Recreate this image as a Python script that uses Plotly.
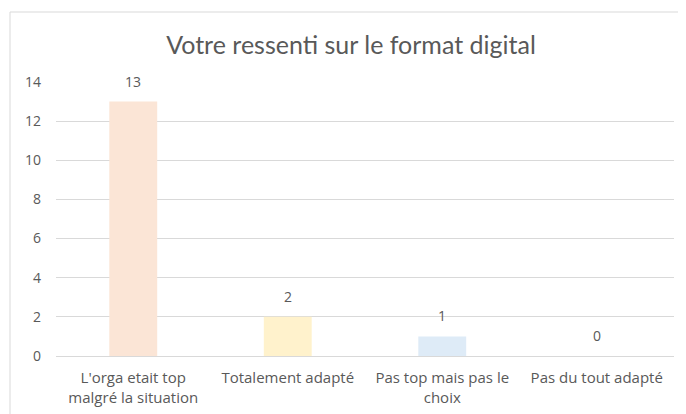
import plotly.graph_objects as go

categories = ["L'orga etait top<br>malgré la situation", "Totalement adapté",
              "Pas top mais pas le<br>choix", "Pas du tout adapté"]
values = [13, 2, 1, 0]
colors = ["#FBE5D6", "#FFF2CC", "#DEEBF7", "#E2F0D9"]
y_ticks = [0, 2, 4, 6, 8, 10, 12, 14]

title_font = "Lato, 'Open Sans', sans-serif"
body_font = "'Open Sans', Lato, sans-serif"
txt = "#595959"

# plot area in figure pixels (page has an 8px body margin)
L, T, R, B = 48, 74, 666, 348
W, H = R - L, B - T

fig = go.Figure()
fig.add_trace(go.Bar(x=categories, y=values, marker=dict(color=colors, line=dict(width=0)),
                     hoverinfo="skip"))

for c, v in zip(categories, values):
    fig.add_annotation(x=c, y=v, text=str(v), showarrow=False, yanchor="bottom",
                       yshift=9, font=dict(family=body_font, size=14, color=txt))

fig.add_shape(type="rect", xref="paper", yref="paper",
              x0=(2 - L) / W, x1=(700 - L) / W,
              y0=(B - 430) / H, y1=(B - 4) / H,
              line=dict(color="#D9D9D9", width=1), fillcolor="rgba(0,0,0,0)", layer="below")

fig.update_layout(
    width=686, height=414,
    margin=dict(l=L, r=686 - R, t=T, b=414 - B),
    paper_bgcolor="white", plot_bgcolor="white",
    showlegend=False,
    bargap=0.69,
    title=dict(text="Votre ressenti sur le format digital", x=343 / 686, xanchor="center",
               y=1 - 37 / 414, yanchor="middle",
               font=dict(family=title_font, size=25, color=txt)),
    font=dict(family=body_font, size=14, color=txt),
    xaxis=dict(showgrid=False, showline=False, ticks="",
               tickfont=dict(family=body_font, size=15, color=txt),
               ticklabelstandoff=11),
    yaxis=dict(range=[0, 14], tickvals=y_ticks, showgrid=True, gridcolor="#D9D9D9",
               gridwidth=1, zeroline=True, zerolinecolor="#D9D9D9", zerolinewidth=1,
               showline=False, ticks="", ticklabelstandoff=14,
               tickfont=dict(family=body_font, size=14, color=txt)),
)

fig.write_html("out.html")
